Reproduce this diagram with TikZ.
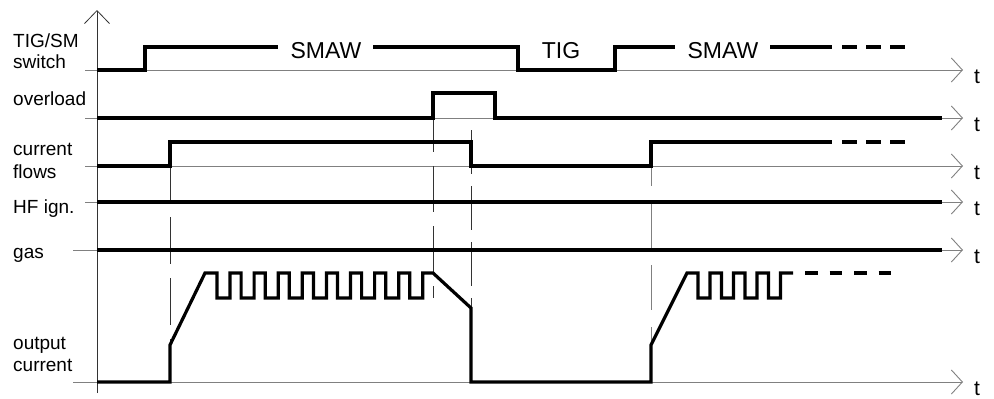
\documentclass[tikz,border=0pt]{standalone}
\usepackage{fontspec}
\setmainfont{Liberation Sans}
\usetikzlibrary{arrows.meta}
\begin{document}
\begin{tikzpicture}[x=1pt,y=-1pt,line join=miter,
  baseln/.style={gray,line width=.9pt,-{Straight Barb[length=11pt,width=24pt]}},
  sigline/.style={line width=3.2pt},
  sigdash/.style={sigline,dash pattern=on 15pt off 9pt},
  edgeline/.style={black!80,line width=.8pt,dash pattern=on 47pt off 14pt},
  lbl/.style={anchor=base west,inner sep=0pt,font=\fontsize{19}{22}\selectfont},
  tlbl/.style={anchor=base west,inner sep=0pt,font=\fontsize{21}{24}\selectfont},
  modelbl/.style={anchor=base,inner sep=0pt,font=\fontsize{23}{26}\selectfont}]
  \useasboundingbox (0,0) rectangle (994,399);
  \draw[black!80,line width=.8pt,-{Straight Barb[length=13pt,width=25pt]}] (97,393)--(97,10);
  \draw[baseln] (85,70)--(963,70);
  \draw[baseln] (85,118)--(963,118);
  \draw[baseln] (85,166)--(963,166);
  \draw[baseln] (85,202)--(963,202);
  \draw[baseln] (73,250)--(963,250);
  \draw[baseln] (73,382)--(963,382);
  \draw[edgeline] (170,156)--(170,345);
  \draw[edgeline,dash pattern=on 46pt off 14pt] (433,106)--(433,298);
  \draw[edgeline,dash pattern=on 44pt off 12pt] (471,130)--(471,308);
  \draw[edgeline,gray,dash pattern=on 45pt off 17pt] (651,141)--(651,345);
  \draw[sigline] (97,70)--(145,70)--(145,47)--(278,47);
  \draw[sigline] (373,47)--(518,47)--(518,70)--(615,70)--(615,47)--(675,47);
  \draw[sigline] (770,47)--(832,47);
  \draw[sigdash] (842,47)--(905,47);
  \draw[sigline] (97,118)--(433,118)--(433,93)--(495,93)--(495,118)--(942,118);
  \draw[sigline] (97,166)--(170,166)--(170,142)--(471,142)--(471,166)
    --(651,166)--(651,142)--(832,142);
  \draw[sigdash] (842,142)--(905,142);
  \draw[sigline] (97,202)--(942,202);
  \draw[sigline] (97,250)--(942,250);
  \draw[sigline] (97,382)--(170,382)--(170,345)--(205,273)
    \foreach \k in {0,...,8} {--({217+24.1*\k},273)--({217+24.1*\k},298)
      --({230+24.1*\k},298)--({230+24.1*\k},273)}
    --(433,273)--(471,308)--(471,382)--(651,382)--(651,345)--(687,273)
    \foreach \k in {0,...,3} {--({698+23.5*\k},273)--({698+23.5*\k},298)
      --({710+23.5*\k},298)--({710+23.5*\k},273)}
    --(793,273);
  \draw[sigline,dash pattern=on 12.5pt off 12pt] (805,273)--(892,273);
  \node[lbl] (sw1) at (13,47) {TIG/SM};
  \node[lbl] (sw2) at (13,68) {switch};
  \node[lbl] (ovl) at (13,105) {overload};
  \node[lbl] (cf1) at (13,155) {current};
  \node[lbl] (cf2) at (13,178) {flows};
  \node[lbl] (hf) at (13,213) {HF ign.};
  \node[lbl] (gas) at (13,258) {gas};
  \node[lbl] (oc1) at (13,349) {output};
  \node[lbl] (oc2) at (13,371) {current};
  \node[modelbl] (smaw1) at (326,58) {SMAW};
  \node[modelbl] (tig) at (561,58) {TIG};
  \node[modelbl] (smaw2) at (723,58) {SMAW};
  \node[tlbl] (t1) at (974,83) {t};
  \node[tlbl] (t2) at (974,131) {t};
  \node[tlbl] (t3) at (974,179) {t};
  \node[tlbl] (t4) at (974,215) {t};
  \node[tlbl] (t5) at (974,263) {t};
  \node[tlbl] (t6) at (974,395) {t};
\end{tikzpicture}
\end{document}
